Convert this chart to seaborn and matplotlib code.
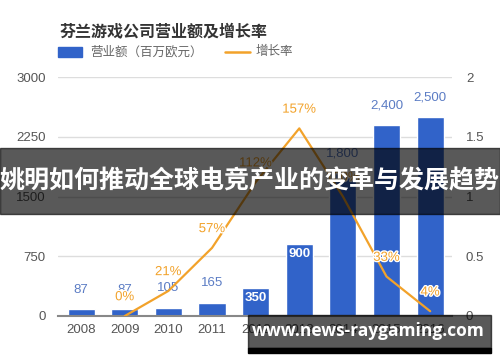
import matplotlib
matplotlib.use("Agg")
import matplotlib.pyplot as plt
import matplotlib.patheffects as pe
from matplotlib.patches import Rectangle
import numpy as np
import seaborn as sns

# data
years = ["2008", "2009", "2010", "2011", "2012", "2013", "2014", "2015", "2016"]
revenue = [87, 87, 105, 165, 350, 900, 1800, 2400, 2500]  # 百万欧元
growth_years = ["2009", "2010", "2011", "2012", "2013", "2014", "2015", "2016"]
growth_pct = [0, 21, 57, 112, 157, 100, 33, 4]
inside_labels = ["2012", "2013"]  # value printed in white inside the bar
left_ticks = [0, 750, 1500, 2250, 3000]
right_ticks = [0, 0.5, 1, 1.5, 2]
right_tick_labels = ["0", "0.5", "1", "1.5", "2"]

BLUE = "#3163c9"
BLUE_TXT = "#5b7cc4"
ORANGE = "#f2a22a"
GRAY = "#555555"

sns.set_theme(style="white")
plt.rcParams["font.family"] = ["Liberation Sans", "Noto Sans CJK SC", "DejaVu Sans"]

W, H = 500, 362
fig = plt.figure(figsize=(W / 100, H / 100), dpi=100)


def fx(x):
    return x / W


def fy(y):
    return 1 - y / H


ax = fig.add_axes([fx(58), fy(316), fx(452) - fx(58), fy(77) - fy(316)])
sns.barplot(x=years, y=revenue, color=BLUE, width=0.62, saturation=1, ax=ax, zorder=2)
ax.set_xlim(-0.53, 8.5)
ax.set_ylim(0, 3000)
ax.set_yticks(left_ticks)
ax.set_yticklabels([str(t) for t in left_ticks])
ax.grid(axis="y", color="#dddddd", linewidth=1)
ax.set_axisbelow(True)
for s in ["top", "right", "left"]:
    ax.spines[s].set_visible(False)
ax.spines["bottom"].set_color("#888888")
ax.spines["bottom"].set_linewidth(1.5)
ax.tick_params(axis="x", length=0, pad=6, labelsize=9.5, labelcolor=GRAY)
ax.tick_params(axis="y", length=0, pad=9, labelsize=9.5, labelcolor=GRAY)
ax.set_xlabel("")
ax.set_ylabel("")

for i, (yr, v) in enumerate(zip(years, revenue)):
    if yr in inside_labels:
        ax.annotate(f"{v:,}", (i, v), xytext=(0, -7), textcoords="offset points",
                    ha="center", va="center", fontsize=9.5, color="white",
                    fontweight="bold", zorder=5)
    else:
        ax.annotate(f"{v:,}", (i, v), xytext=(0, 14), textcoords="offset points",
                    ha="center", va="center", fontsize=9.5, color=BLUE_TXT, zorder=5)

ax2 = ax.twinx()
gx = [years.index(y) for y in growth_years]
gvals = np.array(growth_pct) / 100
sns.lineplot(x=gx, y=gvals, color=ORANGE, linewidth=1.6, ax=ax2, zorder=4)
ax2.set_ylim(0, 2)
ax2.set_yticks(right_ticks)
ax2.set_yticklabels(right_tick_labels)
ax2.tick_params(axis="y", length=0, pad=10, labelsize=9.5, labelcolor=GRAY)
ax2.set_ylabel("")
for s in ["top", "right", "left", "bottom"]:
    ax2.spines[s].set_visible(False)
ax2.grid(False)
for x, v, p in zip(gx, gvals, growth_pct):
    ax2.annotate(f"{p}%", (x, v), xytext=(0, 13.5), textcoords="offset points",
                 ha="center", va="center", fontsize=9.5, color=ORANGE,
                 path_effects=[pe.withStroke(linewidth=2, foreground="white")], zorder=6)

# title and legend
fig.text(fx(60), fy(31), "芬兰游戏公司营业额及增长率", fontsize=11.5, fontweight="bold",
         color="#333333", ha="left", va="center")
fig.patches.append(Rectangle((fx(58), fy(57)), fx(24), fy(47) - fy(57),
                             transform=fig.transFigure, color=BLUE, zorder=3))
fig.text(fx(90), fy(52), "营业额（百万欧元）", fontsize=9, color="#666666",
         ha="left", va="center")
fig.lines.append(plt.Line2D([fx(225), fx(250)], [fy(52), fy(52)],
                            transform=fig.transFigure, color=ORANGE, linewidth=1.8))
fig.text(fx(256), fy(52), "增长率", fontsize=9, color="#666666", ha="left", va="center")

# overlay banner
fig.patches.append(Rectangle((0, fy(214)), 1, fy(148) - fy(214), transform=fig.transFigure,
                             color="black", alpha=0.65, zorder=10))
fig.text(0.5, fy(181), "姚明如何推动全球电竞产业的变革与发展趋势", fontsize=18,
         fontweight="bold", color="white", ha="center", va="center", zorder=11)

# watermark box
fig.patches.append(Rectangle((fx(248), fy(348)), fx(491) - fx(248), fy(315) - fy(348),
                             transform=fig.transFigure, color="black", alpha=0.65, zorder=10))
fig.patches.append(Rectangle((fx(248), fy(353)), fx(491) - fx(248), fy(348) - fy(353),
                             transform=fig.transFigure, color="black", zorder=10))
fig.text(fx(368), fy(331), "www.news-raygaming.com", fontsize=12.5, fontweight="bold",
         color="white", ha="center", va="center", zorder=11, family="Open Sans")

fig.savefig("out.png", dpi=100)
